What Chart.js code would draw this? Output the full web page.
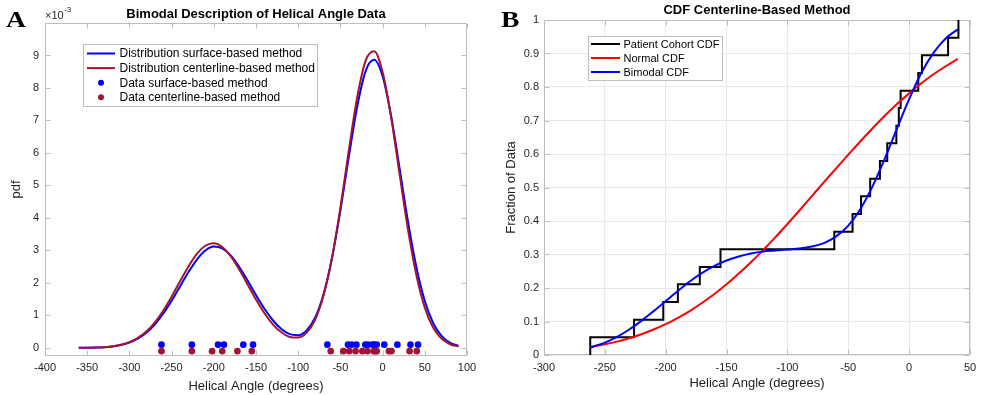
<!DOCTYPE html>
<html><head><meta charset="utf-8">
<script src="https://cdn.jsdelivr.net/npm/chart.js@4.4.1/dist/chart.umd.min.js"></script>
<style>
html,body{margin:0;padding:0;background:#fff;overflow:hidden}
#wrap{position:relative;width:985px;height:395px;background:#fff}
canvas{position:absolute;top:0}
#cA{left:0}
#cB{left:490px}
</style></head><body>
<div id="wrap"><canvas id="cA" width="490" height="395"></canvas><canvas id="cB" width="495" height="395"></canvas></div>
<script>
// ---------------- DATA ----------------
// Panel A: pdf curves (values in units of 1e-3), sampled every 10 degrees
const pdfAngles = [-360,-350,-340,-330,-320,-310,-300,-290,-280,-270,-260,-250,-240,-230,-220,-210,-200,-190,-180,-170,-160,-150,-140,-130,-120,-110,-100,-90,-80,-70,-60,-50,-40,-30,-20,-10,0,10,20,30,40,50,60,70,80,90];
const pdfSurface = [0.002,0.005,0.010,0.022,0.046,0.089,0.163,0.283,0.464,0.718,1.050,1.450,1.892,2.334,2.720,2.995,3.117,3.064,2.846,2.498,2.072,1.625,1.205,0.850,0.583,0.422,0.390,0.536,0.927,1.651,2.761,4.226,5.884,7.437,8.526,8.866,8.361,7.152,5.548,3.904,2.491,1.441,0.757,0.360,0.156,0.061];
const pdfCenterline = [0.002,0.004,0.010,0.023,0.048,0.094,0.175,0.305,0.503,0.781,1.144,1.577,2.049,2.507,2.892,3.144,3.219,3.106,2.824,2.419,1.953,1.487,1.067,0.726,0.479,0.336,0.318,0.468,0.866,1.610,2.769,4.320,6.085,7.730,8.851,9.131,8.489,7.113,5.371,3.655,2.241,1.238,0.617,0.277,0.112,0.041];
// Panel A: measured helical angles (degrees)
const surfaceAngles = [-262,-226,-195,-188,-165,-153.5,-65.5,-41,-36.5,-31,-20.5,-17.5,-12,-10,-7,2,17.5,33,42];
const centerlineAngles = [-262,-226,-202,-190,-172,-155,-61.5,-46.5,-39.5,-32,-24,-18,-10.5,-8.5,-7,7.5,10.5,32,40.5];
// Panel B: empirical CDF fractions for the centerline data
const cohortFraction = [0.053,0.105,0.158,0.211,0.263,0.316,0.368,0.421,0.474,0.526,0.579,0.632,0.684,0.737,0.789,0.842,0.895,0.947,1.000];
// Panel B: fitted CDF curves
const cdfAngles = [-262,-250,-240,-230,-220,-210,-200,-190,-180,-170,-160,-150,-140,-130,-120,-110,-100,-90,-80,-70,-60,-50,-40,-30,-20,-10,0,10,20,30,40];
const normalCdf = [0.024,0.032,0.040,0.050,0.062,0.076,0.092,0.111,0.132,0.156,0.182,0.211,0.243,0.277,0.313,0.351,0.391,0.432,0.474,0.516,0.557,0.598,0.638,0.677,0.714,0.749,0.781,0.811,0.838,0.862,0.884];
const bimodalCdf = [0.022,0.037,0.054,0.076,0.102,0.131,0.161,0.191,0.220,0.245,0.266,0.282,0.294,0.303,0.309,0.312,0.315,0.318,0.324,0.334,0.354,0.386,0.436,0.504,0.586,0.676,0.764,0.842,0.902,0.945,0.972];
// Tick labels
const xTicksA = [-400,-350,-300,-250,-200,-150,-100,-50,0,50,100];
const yTicksA = [0,1,2,3,4,5,6,7,8,9];
const xTicksB = [-300,-250,-200,-150,-100,-50,0,50];
const yTicksB = [0,0.1,0.2,0.3,0.4,0.5,0.6,0.7,0.8,0.9,1];

// ---------------- STYLE / HELPERS ----------------
const FONT = "'Liberation Sans', Arial, Helvetica, sans-serif";
Chart.defaults.font.family = FONT;
Chart.defaults.color = '#262626';
Chart.defaults.animation = false;
const BOX = '#bdbdbd';

const frame = {
  id: 'frame',
  beforeDatasetsDraw(chart, args, o) {
    const {ctx, chartArea: a} = chart;
    const x = chart.scales.x, y = chart.scales.y;
    const L = Math.round(a.left) + 0.5, R = Math.round(a.right) - 0.5;
    const T = Math.round(a.top) + 0.5, B = Math.round(a.bottom) - 0.5;
    ctx.save();
    ctx.strokeStyle = o.color; ctx.lineWidth = 1;
    ctx.beginPath();
    ctx.rect(L, T, R - L, B - T);
    x.ticks.forEach(t => {
      const p = Math.round(x.getPixelForValue(t.value)) + 0.5;
      ctx.moveTo(p, B); ctx.lineTo(p, B - o.len);
      ctx.moveTo(p, T); ctx.lineTo(p, T + o.len);
    });
    y.ticks.forEach(t => {
      const p = Math.round(y.getPixelForValue(t.value)) + 0.5;
      ctx.moveTo(L, p); ctx.lineTo(L + o.len, p);
      ctx.moveTo(R, p); ctx.lineTo(R - o.len, p);
    });
    ctx.stroke();
    ctx.restore();
  }
};

const annot = {
  id: 'annot',
  afterDraw(chart, args, o) {
    const ctx = chart.ctx, a = chart.chartArea;
    ctx.save();
    ctx.fillStyle = '#000';
    ctx.font = 'bold 13px ' + FONT;
    ctx.textAlign = 'center'; ctx.textBaseline = 'middle';
    ctx.fillText(o.title, (a.left + a.right) / 2, o.titleY);
    // panel letter
    ctx.save();
    ctx.translate(o.letterX, o.letterY);
    ctx.scale(1.2, 1);
    ctx.font = 'bold 23px "Liberation Serif", "Times New Roman", serif';
    ctx.textAlign = 'left'; ctx.textBaseline = 'alphabetic';
    ctx.fillText(o.letter, 0, 0);
    ctx.restore();
    // exponent label
    if (o.exponent) {
      ctx.fillStyle = '#262626';
      ctx.textAlign = 'left'; ctx.textBaseline = 'alphabetic';
      ctx.font = '11px ' + FONT;
      ctx.fillText('\u00d710', o.exponent.x, o.exponent.y);
      const w = ctx.measureText('\u00d710').width;
      ctx.font = '8px ' + FONT;
      ctx.fillText('-3', o.exponent.x + w + 0.5, o.exponent.y - 7);
    }
    // legend
    const lg = o.legend;
    ctx.fillStyle = '#fff';
    ctx.fillRect(lg.x, lg.y, lg.w, lg.h);
    ctx.strokeStyle = lg.border; ctx.lineWidth = 1;
    ctx.strokeRect(lg.x + 0.5, lg.y + 0.5, lg.w, lg.h);
    chart.data.datasets.forEach((ds, i) => {
      const cy = lg.y + lg.first + i * lg.gap;
      if (ds.showLine) {
        ctx.strokeStyle = ds.borderColor; ctx.lineWidth = 2;
        ctx.beginPath(); ctx.moveTo(lg.x + lg.l0, cy); ctx.lineTo(lg.x + lg.l1, cy); ctx.stroke();
      } else {
        ctx.fillStyle = ds.backgroundColor;
        ctx.beginPath(); ctx.arc(lg.x + (lg.l0 + lg.l1) / 2, cy, 3, 0, Math.PI * 2); ctx.fill();
      }
      ctx.fillStyle = '#000';
      ctx.font = lg.font;
      ctx.textAlign = 'left'; ctx.textBaseline = 'middle';
      ctx.fillText(ds.label, lg.x + lg.tx, cy + 0.5);
    });
    ctx.restore();
  }
};

function fixW(w) { return s => { s.width = w; }; }
function fixH(h) { return s => { s.height = h; }; }
function setTicks(arr) { return s => { s.ticks = arr.map(v => ({value: v})); }; }
function pts(xs, ys) { return xs.map((x, i) => ({x: x, y: ys[i]})); }

// ---------------- PANEL A ----------------
new Chart(document.getElementById('cA'), {
  type: 'scatter',
  data: {
    datasets: [
      {label: 'Distribution surface-based method', data: pts(pdfAngles, pdfSurface), showLine: true, borderColor: '#0000ff', borderWidth: 2, pointRadius: 0, cubicInterpolationMode: 'monotone', order: 4},
      {label: 'Distribution centerline-based method', data: pts(pdfAngles, pdfCenterline), showLine: true, borderColor: '#a2142f', borderWidth: 2, pointRadius: 0, cubicInterpolationMode: 'monotone', order: 3},
      {label: 'Data surface-based method', data: surfaceAngles.map(v => ({x: v, y: 0.1})), showLine: false, backgroundColor: '#0000ff', borderWidth: 0, pointRadius: 3.3, order: 2},
      {label: 'Data centerline-based method', data: centerlineAngles.map(v => ({x: v, y: -0.1})), showLine: false, backgroundColor: '#a2142f', borderWidth: 0, pointRadius: 3.3, order: 1}
    ]
  },
  options: {
    responsive: false, devicePixelRatio: 1,
    layout: {padding: {left: 0, right: 23, top: 23, bottom: 0}},
    plugins: {
      legend: {display: false}, tooltip: {enabled: false},
      frame: {color: BOX, len: 5},
      annot: {
        title: 'Bimodal Description of Helical Angle Data', titleY: 14,
        letter: 'A', letterX: 6, letterY: 27,
        exponent: {x: 45, y: 19},
        legend: {x: 83, y: 44, w: 234, h: 62, first: 9.5, gap: 14.6, l0: 4, l1: 32, tx: 36.5, font: '12px ' + FONT, border: '#bdbdbd'}
      }
    },
    scales: {
      x: {
        type: 'linear', min: -400, max: 100,
        afterFit: fixH(39), afterBuildTicks: setTicks(xTicksA),
        grid: {display: false, drawTicks: false}, border: {display: false},
        ticks: {padding: 5, font: {size: 11}, maxRotation: 0, autoSkip: false, callback: v => String(v)},
        title: {display: true, text: 'Helical Angle (degrees)', font: {size: 13}, color: '#222', padding: {top: 0, bottom: 1}}
      },
      y: {
        type: 'linear', min: -0.25, max: 10,
        afterFit: fixW(45), afterBuildTicks: setTicks(yTicksA),
        grid: {display: false, drawTicks: false}, border: {display: false},
        ticks: {padding: 6, font: {size: 11}, autoSkip: false, callback: v => String(v)},
        title: {display: true, text: 'pdf', font: {size: 13}, color: '#222', padding: {top: 9, bottom: 0}}
      }
    }
  },
  plugins: [frame, annot]
});

// ---------------- PANEL B ----------------
const cohortPts = [{x: centerlineAngles[0], y: 0}].concat(pts(centerlineAngles, cohortFraction));
new Chart(document.getElementById('cB'), {
  type: 'scatter',
  data: {
    datasets: [
      {label: 'Patient Cohort CDF', data: cohortPts, showLine: true, stepped: 'before', borderColor: '#000000', borderWidth: 2, pointRadius: 0, order: 3},
      {label: 'Normal CDF', data: pts(cdfAngles, normalCdf), showLine: true, borderColor: '#ff0000', borderWidth: 2, pointRadius: 0, cubicInterpolationMode: 'monotone', order: 2},
      {label: 'Bimodal CDF', data: pts(cdfAngles, bimodalCdf), showLine: true, borderColor: '#0000ff', borderWidth: 2, pointRadius: 0, cubicInterpolationMode: 'monotone', order: 1}
    ]
  },
  options: {
    responsive: false, devicePixelRatio: 1,
    layout: {padding: {left: 0, right: 15, top: 20, bottom: 0}},
    plugins: {
      legend: {display: false}, tooltip: {enabled: false},
      frame: {color: BOX, len: 5},
      annot: {
        title: 'CDF Centerline-Based Method', titleY: 10.5,
        letter: 'B', letterX: 11, letterY: 27,
        legend: {x: 98, y: 36, w: 134, h: 44, first: 8, gap: 14, l0: 3, l1: 32, tx: 35.5, font: '11px ' + FONT, border: '#bdbdbd'}
      }
    },
    scales: {
      x: {
        type: 'linear', min: -300, max: 50,
        afterFit: fixH(40), afterBuildTicks: setTicks(xTicksB),
        grid: {display: true, drawTicks: false, color: '#e9e9e9', lineWidth: 1}, border: {display: false},
        ticks: {padding: 6, font: {size: 11}, maxRotation: 0, autoSkip: false, callback: v => String(v)},
        title: {display: true, text: 'Helical Angle (degrees)', font: {size: 13}, color: '#222', padding: {top: 0, bottom: 4}}
      },
      y: {
        type: 'linear', min: 0, max: 1,
        afterFit: fixW(54), afterBuildTicks: setTicks(yTicksB),
        grid: {display: true, drawTicks: false, color: '#e9e9e9', lineWidth: 1}, border: {display: false},
        ticks: {padding: 5, font: {size: 11}, autoSkip: false, callback: v => String(v)},
        title: {display: true, text: 'Fraction of Data', font: {size: 13}, color: '#222', padding: {top: 14, bottom: 0}}
      }
    }
  },
  plugins: [frame, annot]
});
</script></body></html>
